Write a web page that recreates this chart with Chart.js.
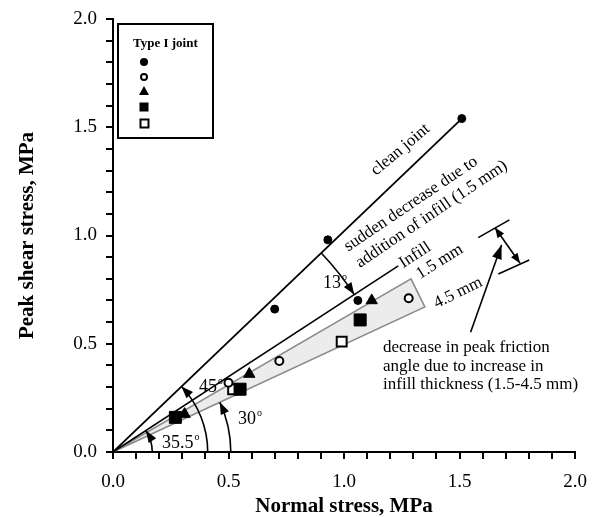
<!DOCTYPE html>
<html>
<head>
<meta charset="utf-8">
<script src="https://cdn.jsdelivr.net/npm/chart.js@4.4.1/dist/chart.umd.min.js"></script>
<style>
  html, body { margin: 0; padding: 0; background: #fff; }
  #wrap { width: 597px; height: 517px; }
</style>
</head>
<body>
<div id="wrap"><canvas id="chart" width="597" height="517"></canvas></div>
<script>
// values (normal stress, peak shear stress in MPa)
const filledCircleX = [0.70, 0.93, 1.06, 1.51];
const filledCircleY = [0.66, 0.98, 0.70, 1.54];
const openCircleX = [0.50, 0.72, 1.28];
const openCircleY = [0.32, 0.42, 0.71];
const filledTriX = [0.31, 0.59, 1.12];
const filledTriY = [0.175, 0.36, 0.70];
const filledSqX = [0.27, 0.55, 1.07];
const filledSqY = [0.16, 0.29, 0.61];
const openSqX = [0.52, 0.99];
const openSqY = [0.29, 0.51];

// envelopes
const cleanLineX = [0, 1.51];
const cleanLineY = [0, 1.54];
const infillLineX = [0, 1.235];
const infillLineY = [0, 0.86];
const bandX = [0, 1.29, 1.35, 0];
const bandY = [0, 0.80, 0.67, 0];

const majorTicks = [0, 0.5, 1.0, 1.5, 2.0];
const legendTitle = 'Type I joint';

// angle arcs: radius given as x value where arc meets the x axis
const arcRadius = [0.17, 0.41, 0.51, 1.247];
const arcFrom = ['axis', 'axis', 'axis', 'clean'];
const arcTo = ['infill', 'clean', 'band', 'infill'];
const arcLabel = ['35.5', '45', '30', '13'];
const arcLabelX = [0.212, 0.372, 0.541, 0.909];
const arcLabelY = [0.018, 0.277, 0.129, 0.757];

// rotated notes (baseline start, data units)
const noteText = ['clean joint', 'sudden decrease due to', 'addition of infill (1.5 mm)', 'Infill', '1.5 mm', '4.5 mm'];
const noteX = [1.139, 1.018, 1.069, 1.257, 1.329, 1.401];
const noteY = [1.275, 0.925, 0.850, 0.849, 0.798, 0.664];
const noteAngle = [-40, -34, -34, -33, -32, -26];

const paraText = ['decrease in peak friction', 'angle due to increase in', 'infill thickness (1.5-4.5 mm)'];
const paraX = 1.169;
const paraY = [0.462, 0.376, 0.291];

// thickness arrows
const pointerX = [1.548, 1.682];
const pointerY = [0.553, 0.956];
const barTopX = [1.581, 1.716];
const barTopY = [0.990, 1.072];
const barBotX = [1.668, 1.802];
const barBotY = [0.822, 0.887];
const dblX = [1.654, 1.762];
const dblY = [1.036, 0.872];

const SERIF = '"Liberation Serif", "Times New Roman", serif';

function pts(xs, ys){ return xs.map((x, i) => ({ x: x, y: ys[i] })); }

function arrowHead(ctx, tx, ty, dx, dy, len, wid){
  const l = Math.hypot(dx, dy); dx /= l; dy /= l;
  const bx = tx - dx * len, by = ty - dy * len;
  ctx.beginPath();
  ctx.moveTo(tx, ty);
  ctx.lineTo(bx - dy * wid / 2, by + dx * wid / 2);
  ctx.lineTo(bx + dy * wid / 2, by - dx * wid / 2);
  ctx.closePath();
  ctx.fill();
}

const annotate = {
  id: 'annotate',
  afterDatasetsDraw(chart){
    const ctx = chart.ctx;
    const xs = chart.scales.x, ys = chart.scales.y;
    const px = v => xs.getPixelForValue(v);
    const py = v => ys.getPixelForValue(v);
    const ox = px(0), oy = py(0);
    const ang = (x, y) => Math.atan2(oy - py(y), px(x) - ox);
    const dirs = {
      axis: 0,
      clean: ang(cleanLineX[1], cleanLineY[1]),
      infill: ang(infillLineX[1], infillLineY[1]),
      band: ang(bandX[2], bandY[2])
    };

    ctx.save();
    ctx.strokeStyle = '#000';
    ctx.fillStyle = '#000';
    ctx.lineWidth = 1.6;

    // arcs with arrow at the end
    arcRadius.forEach((rv, i) => {
      const r = px(rv) - ox;
      const a0 = dirs[arcFrom[i]], a1 = dirs[arcTo[i]];
      ctx.beginPath();
      ctx.arc(ox, oy, r, -a0, -a1, a1 > a0);
      ctx.stroke();
      const tx = ox + r * Math.cos(a1), ty = oy - r * Math.sin(a1);
      const s = a1 > a0 ? 1 : -1;
      arrowHead(ctx, tx, ty, -Math.sin(a1) * s, -Math.cos(a1) * s, 12, 9);
    });

    // degree labels
    ctx.textBaseline = 'alphabetic';
    ctx.textAlign = 'left';
    arcLabel.forEach((t, i) => {
      const x = px(arcLabelX[i]), y = py(arcLabelY[i]);
      ctx.font = '18px ' + SERIF;
      ctx.fillText(t, x, y);
      const w = ctx.measureText(t).width;
      ctx.font = '10px ' + SERIF;
      ctx.fillText('o', x + w + 1, y - 8);
    });

    // rotated notes
    ctx.font = '17px ' + SERIF;
    noteText.forEach((t, i) => {
      ctx.save();
      ctx.translate(px(noteX[i]), py(noteY[i]));
      ctx.rotate(noteAngle[i] * Math.PI / 180);
      ctx.fillText(t, 0, 0);
      ctx.restore();
    });

    paraText.forEach((t, i) => ctx.fillText(t, px(paraX), py(paraY[i])));

    // pointer arrow
    ctx.beginPath();
    ctx.moveTo(px(pointerX[0]), py(pointerY[0]));
    ctx.lineTo(px(pointerX[1]), py(pointerY[1]));
    ctx.stroke();
    arrowHead(ctx, px(pointerX[1]), py(pointerY[1]),
      px(pointerX[1]) - px(pointerX[0]), py(pointerY[1]) - py(pointerY[0]), 14, 10);

    // bars and double arrow
    [[barTopX, barTopY], [barBotX, barBotY], [dblX, dblY]].forEach(([bx, by]) => {
      ctx.beginPath();
      ctx.moveTo(px(bx[0]), py(by[0]));
      ctx.lineTo(px(bx[1]), py(by[1]));
      ctx.stroke();
    });
    const dx = px(dblX[1]) - px(dblX[0]), dy = py(dblY[1]) - py(dblY[0]);
    arrowHead(ctx, px(dblX[1]), py(dblY[1]), dx, dy, 10, 8);
    arrowHead(ctx, px(dblX[0]), py(dblY[0]), -dx, -dy, 10, 8);

    ctx.restore();
  },
  afterDraw(chart){
    // legend box
    const ctx = chart.ctx;
    ctx.save();
    ctx.strokeStyle = '#000';
    ctx.lineWidth = 2;
    ctx.strokeRect(118, 24, 95, 114);
    ctx.fillStyle = '#000';
    ctx.font = 'bold 13px ' + SERIF;
    ctx.textBaseline = 'alphabetic';
    ctx.fillText(legendTitle, 133, 47);
    const mx = 144;
    // filled circle
    ctx.beginPath(); ctx.arc(mx, 62, 4, 0, Math.PI * 2); ctx.fill();
    // open circle
    ctx.lineWidth = 2;
    ctx.beginPath(); ctx.arc(mx, 77, 3, 0, Math.PI * 2); ctx.stroke();
    // triangle
    ctx.beginPath(); ctx.moveTo(mx, 86); ctx.lineTo(mx + 5, 95); ctx.lineTo(mx - 5, 95); ctx.closePath(); ctx.fill();
    // filled square
    ctx.fillRect(mx - 4.5, 102.5, 9, 9);
    // open square
    ctx.strokeRect(mx - 3.5, 119.5, 8, 8);
    ctx.restore();
  }
};

function markerSet(xs, ys, style, radius, filled){
  return {
    data: pts(xs, ys),
    showLine: false,
    pointStyle: style,
    pointRadius: radius,
    pointBackgroundColor: filled ? '#000' : '#fff',
    pointBorderColor: '#000',
    pointBorderWidth: filled ? 1 : 2,
    order: 0
  };
}

function lineSet(xs, ys, width){
  return {
    data: pts(xs, ys),
    showLine: true,
    borderColor: '#000',
    borderWidth: width,
    pointRadius: 0,
    fill: false,
    order: 5
  };
}

const tickCallback = v => majorTicks.some(m => Math.abs(m - v) < 1e-6) ? v.toFixed(1) : '';

const chart = new Chart(document.getElementById('chart').getContext('2d'), {
  type: 'scatter',
  data: {
    datasets: [
      markerSet(filledCircleX, filledCircleY, 'circle', 4, true),
      markerSet(openCircleX, openCircleY, 'circle', 4, false),
      markerSet(filledTriX, filledTriY, 'triangle', 6.5, true),
      markerSet(filledSqX, filledSqY, 'rect', 8.5, true),
      markerSet(openSqX, openSqY, 'rect', 7, false),
      lineSet(cleanLineX, cleanLineY, 1.8),
      lineSet(infillLineX, infillLineY, 1.6),
      {
        data: pts(bandX, bandY),
        showLine: true,
        borderColor: '#8c8c8c',
        borderWidth: 1.6,
        backgroundColor: '#ececec',
        pointRadius: 0,
        fill: 'shape',
        tension: 0,
        order: 10
      }
    ]
  },
  options: {
    responsive: false,
    animation: false,
    layout: { padding: { left: 0, right: 22, top: 19, bottom: 0 } },
    plugins: { legend: { display: false }, tooltip: { enabled: false } },
    scales: {
      x: {
        type: 'linear', min: 0, max: 2,
        afterFit: s => { s.height = 65; s.paddingLeft = 0; s.paddingRight = 0; },
        border: { display: true, color: '#000', width: 2 },
        grid: { display: true, drawOnChartArea: false, drawTicks: true, tickLength: 7, color: '#000', lineWidth: 2 },
        ticks: { stepSize: 0.1, autoSkip: false, maxRotation: 0, minRotation: 0, padding: 12, color: '#000',
                 font: { family: SERIF, size: 19 }, callback: tickCallback },
        title: { display: true, text: 'Normal stress, MPa', color: '#000', padding: { top: 0, bottom: 0 },
                 font: { family: SERIF, size: 21, weight: 'bold', lineHeight: 1 } }
      },
      y: {
        type: 'linear', min: 0, max: 2,
        afterFit: s => { s.width = 113; s.paddingTop = 0; s.paddingBottom = 0; },
        border: { display: true, color: '#000', width: 2 },
        grid: { display: true, drawOnChartArea: false, drawTicks: true, tickLength: 7, color: '#000', lineWidth: 2 },
        ticks: { stepSize: 0.1, autoSkip: false, padding: 9, color: '#000',
                 font: { family: SERIF, size: 19 }, callback: tickCallback },
        title: { display: true, text: 'Peak shear stress, MPa', color: '#000', padding: { top: 17, bottom: 0 },
                 font: { family: SERIF, size: 21, weight: 'bold', lineHeight: 1 } }
      }
    }
  },
  plugins: [annotate]
});
</script>
</body>
</html>
